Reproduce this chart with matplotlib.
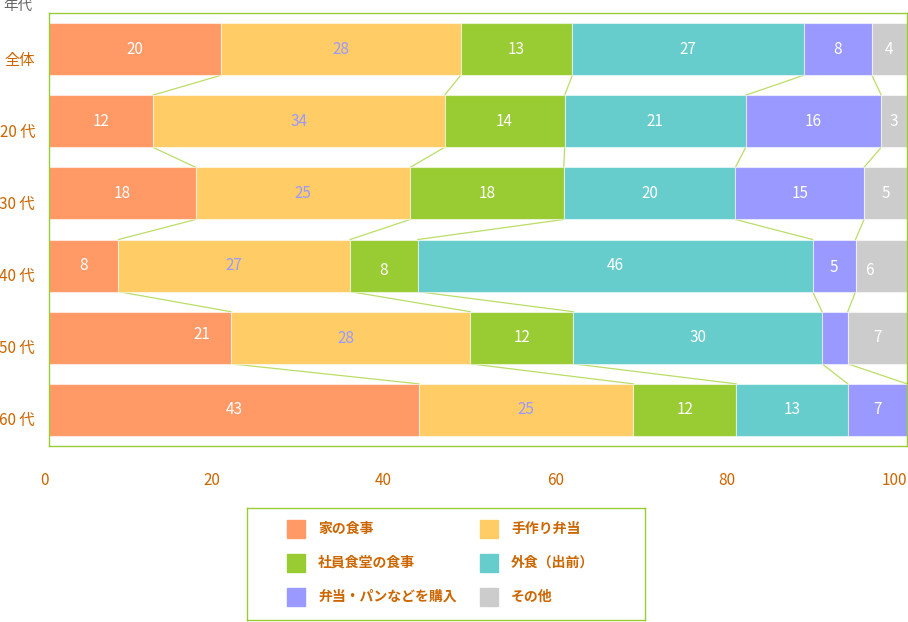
import matplotlib
matplotlib.use("Agg")
import matplotlib.pyplot as plt
from matplotlib.patches import Rectangle
import matplotlib.transforms as mtransforms
import numpy as np

plt.rcParams['font.family'] = ['Noto Sans CJK JP', 'DejaVu Sans']

# ---- data ----
groups = ["全体", "20 代", "30 代", "40 代", "50 代", "60 代"]
categories = ["家の食事", "手作り弁当", "社員食堂の食事", "外食（出前）", "弁当・パンなどを購入", "その他"]
ie_no_shokuji = [20.1, 12.1, 17.1, 8.1, 21.2, 43.1]
tezukuri_bento = [27.9, 34.0, 25.0, 27.0, 27.9, 25.0]
shain_shokudo = [13.0, 14.0, 17.9, 7.9, 12.0, 12.0]
gaishoku = [27.0, 21.1, 20.0, 46.0, 29.0, 13.0]
bento_kounyu = [7.9, 15.8, 15.0, 5.0, 3.0, 6.9]
sonota = [4.1, 3.0, 5.0, 6.0, 6.9, 0.0]
# printed labels per row (as shown on the chart)
labels_rows = [
    ["20", "28", "13", "27", "8", "4"],
    ["12", "34", "14", "21", "16", "3"],
    ["18", "25", "18", "20", "15", "5"],
    ["8", "27", "8", "46", "5", "6"],
    ["21", "28", "12", "30", "", "7"],
    ["43", "25", "12", "13", "7", ""],
]
xticks = [0, 20, 40, 60, 80, 100]

colors = ["#ff9966", "#ffcc66", "#99cc33", "#66cccc", "#9999ff", "#cccccc"]
text_colors = ["white", "#9999ff", "white", "white", "white", "white"]
frame_col = "#99cc33"
line_col = "#bbdd66"
lab_col = "#cc6600"

# small label nudges (dx in data units, dy in rows)
nudges = {(4, 0): (7.2, -0.05), (3, 5): (-1.4, 0.07), (3, 2): (0, 0.07),
          (4, 1): (-0.6, 0.01), (3, 4): (0, 0.03)}

series = [ie_no_shokuji, tezukuri_bento, shain_shokudo, gaishoku, bento_kounyu, sonota]

W, H = 908, 622
fig = plt.figure(figsize=(W / 100, H / 100), dpi=100)
ax = fig.add_axes([49 / W, (H - 446) / H, (907 - 49) / W, (446 - 13) / H])

bar_h = 52 / 72
y = np.arange(len(groups))
left = np.zeros(len(groups))
cums = [np.zeros(len(groups))]
for k, vals in enumerate(series):
    vals = np.array(vals)
    ax.barh(y, vals, left=left, height=bar_h, color=colors[k],
            edgecolor=(1, 1, 1, 0.55), linewidth=0.8, zorder=2)
    for i in range(len(groups)):
        lab = labels_rows[i][k]
        if lab:
            dx, dy = nudges.get((i, k), (0, 0))
            ax.text(left[i] + vals[i] / 2 + dx, y[i] + dy, lab, ha="center", va="center",
                    color=text_colors[k], fontsize=11, zorder=3)
    left = left + vals
    cums.append(left.copy())

# connector lines
for k in range(1, len(series)):
    c = cums[k]
    for i in range(len(groups) - 1):
        ax.plot([c[i], c[i + 1]], [y[i] + bar_h / 2, y[i + 1] - bar_h / 2],
                color=line_col, lw=0.9, zorder=1)

ax.set_xlim(0, 100)
ax.set_ylim(len(groups) - 0.5, -0.5)
for s in ax.spines.values():
    s.set_color(frame_col)
    s.set_linewidth(1.0)

ax.set_yticks(y)
ax.set_yticklabels(groups, color=lab_col, fontsize=11)
ax.set_xticks(xticks)
ax.set_xticklabels([str(t) for t in xticks], color=lab_col, fontsize=11, ha="right")
ax.tick_params(axis="y", length=0, pad=10)
ax.tick_params(axis="x", length=0, pad=19)
shift = mtransforms.ScaledTranslation(0, -9 / 100, fig.dpi_scale_trans)
for t in ax.get_yticklabels():
    t.set_transform(t.get_transform() + shift)

fig.text(3 / W, 1 - 6 / H, "年代", color="#666666", fontsize=10.5, ha="left", va="center")

# legend box
lax = fig.add_axes([247 / W, (H - 620) / H, (645 - 247) / W, (620 - 508) / H])
lax.set_xlim(247, 645)
lax.set_ylim(620, 508)
lax.set_xticks([])
lax.set_yticks([])
for s in lax.spines.values():
    s.set_color(frame_col)
    s.set_linewidth(1.0)
col_x = [287, 480]
row_y = [529, 563, 597]
for k, cat in enumerate(categories):
    r, c = k // 2, k % 2
    lax.add_patch(Rectangle((col_x[c], row_y[r] - 9), 18, 18, color=colors[k]))
    lax.text(col_x[c] + 31, row_y[r], cat, color=lab_col, fontsize=10,
             fontweight="bold", ha="left", va="center")

fig.savefig("out.png", dpi=100)
